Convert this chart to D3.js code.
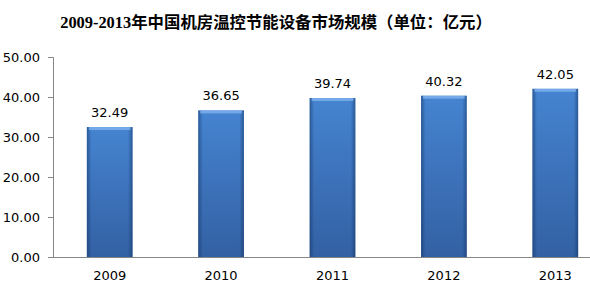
<!DOCTYPE html>
<html>
<head>
<meta charset="utf-8">
<script src="https://cdn.jsdelivr.net/npm/d3@7"></script>
<style>
  body { margin: 0; background: #fff; }
  svg { display: block; }
</style>
</head>
<body>
<div id="chart"></div>
<script>
var years = ["2009", "2010", "2011", "2012", "2013"];
var marketSize = [32.49, 36.65, 39.74, 40.32, 42.05];
var yTicks = [0, 10, 20, 30, 40, 50];
var title = "2009-2013年中国机房温控节能设备市场规模（单位：亿元）";

var width = 590, height = 291;

var svg = d3.select("#chart").append("svg")
      .attr("width", width)
      .attr("height", height);

var defs = svg.append("defs");

// vertical shading: lighter top, darker bottom
var gv = defs.append("linearGradient").attr("id", "barV")
      .attr("x1", 0).attr("y1", 0).attr("x2", 0).attr("y2", 1);
gv.append("stop").attr("offset", "0%").attr("stop-color", "#4b8ddd");
gv.append("stop").attr("offset", "100%").attr("stop-color", "#3766ab");

// horizontal shading: darker edges
var gh = defs.append("linearGradient").attr("id", "barH")
      .attr("x1", 0).attr("y1", 0).attr("x2", 1).attr("y2", 0);
gh.append("stop").attr("offset", "0%").attr("stop-color", "#10305e").attr("stop-opacity", 0.55);
gh.append("stop").attr("offset", "10%").attr("stop-color", "#10305e").attr("stop-opacity", 0.1);
gh.append("stop").attr("offset", "90%").attr("stop-color", "#10305e").attr("stop-opacity", 0.1);
gh.append("stop").attr("offset", "100%").attr("stop-color", "#10305e").attr("stop-opacity", 0.55);

// title
svg.append("text")
      .attr("x", 276)
      .attr("y", 28)
      .attr("text-anchor", "middle")
      .style("font-family", "'Liberation Serif', 'Noto Sans CJK SC', serif")
      .style("font-weight", "bold")
      .style("font-size", "16.4px")
      .style("fill", "#000")
      .text(title);

// scales
var x = d3.scaleBand()
      .domain(years)
      .range([54, 611])
      .paddingInner(0.59)
      .paddingOuter(0.295);

var y = d3.scaleLinear()
      .domain([0, 50])
      .range([257, 57]);

// Y axis
var yAxis = svg.append("g")
      .attr("transform", "translate(53,0)")
      .call(d3.axisLeft(y)
            .tickValues(yTicks)
            .tickSize(5)
            .tickPadding(8)
            .tickFormat(d3.format(".2f")));
yAxis.select(".domain").attr("stroke", "#868686");
yAxis.selectAll(".tick line").attr("stroke", "#868686");
yAxis.selectAll(".tick text")
      .style("font-family", "'DejaVu Sans', sans-serif")
      .style("font-size", "13px")
      .style("fill", "#000");

// bars
var bars = svg.append("g").selectAll("g.bar")
      .data(years)
      .enter()
      .append("g")
      .attr("class", "bar");

bars.append("rect")
      .attr("x", d => x(d))
      .attr("y", (d, i) => y(marketSize[i]))
      .attr("width", x.bandwidth())
      .attr("height", (d, i) => y(0) - y(marketSize[i]))
      .style("fill", "url(#barV)");

bars.append("rect")
      .attr("x", d => x(d))
      .attr("y", (d, i) => y(marketSize[i]))
      .attr("width", x.bandwidth())
      .attr("height", (d, i) => y(0) - y(marketSize[i]))
      .style("fill", "url(#barH)");

// top bevel highlight
bars.append("rect")
      .attr("x", d => x(d) + 2)
      .attr("y", (d, i) => y(marketSize[i]))
      .attr("width", x.bandwidth() - 4)
      .attr("height", 3)
      .style("fill", "#7fb2ee")
      .style("opacity", 0.8);

// value labels
bars.append("text")
      .attr("x", d => x(d) + x.bandwidth() / 2)
      .attr("y", (d, i) => y(marketSize[i]) - 10)
      .attr("text-anchor", "middle")
      .style("font-family", "'DejaVu Sans', sans-serif")
      .style("font-size", "13px")
      .style("fill", "#000")
      .text((d, i) => marketSize[i].toFixed(2));

// X axis
var xAxis = svg.append("g")
      .attr("transform", "translate(0,257)")
      .call(d3.axisBottom(x).tickSize(0).tickPadding(14));
xAxis.select(".domain").attr("stroke", "#868686").attr("d", "M53,0.5H590");
xAxis.selectAll(".tick text")
      .style("font-family", "'DejaVu Sans', sans-serif")
      .style("font-size", "13px")
      .style("fill", "#000");
</script>
</body>
</html>
